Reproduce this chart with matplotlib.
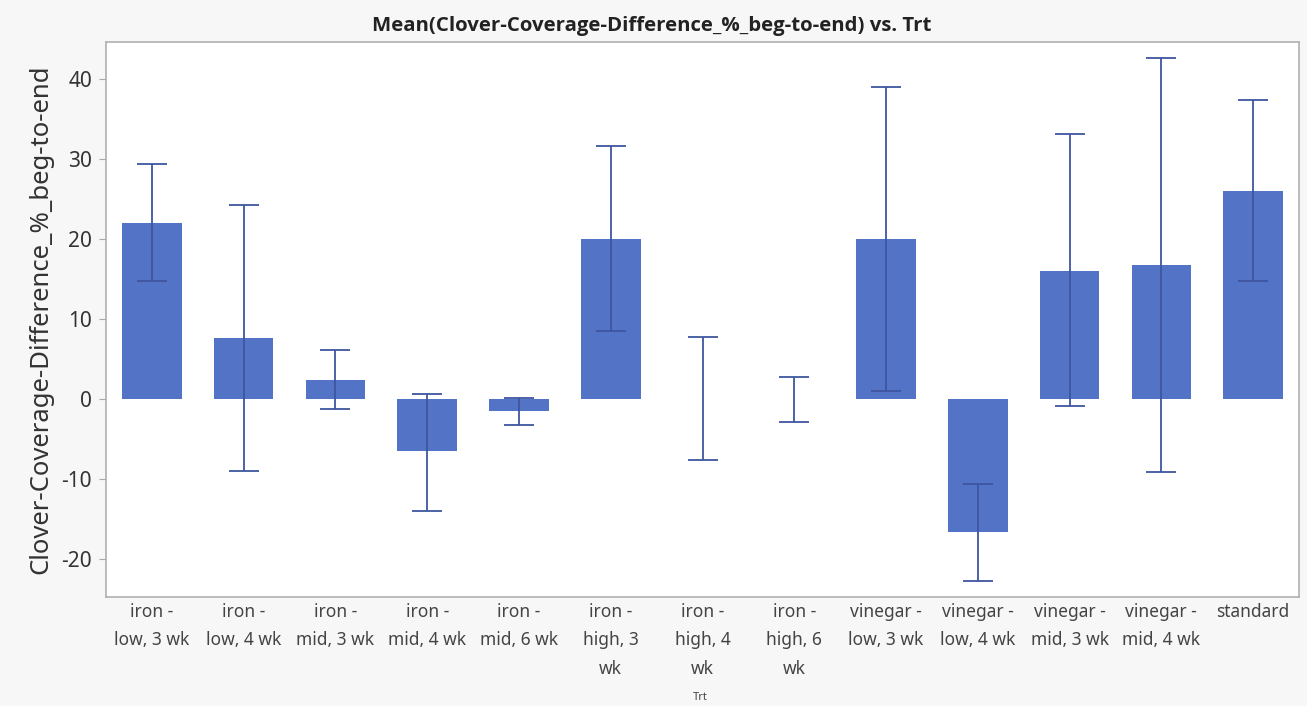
import matplotlib.pyplot as plt
import numpy as np

plt.rcParams['font.family'] = ['Noto Sans', 'DejaVu Sans']

categories = ["iron -\nlow, 3 wk", "iron -\nlow, 4 wk", "iron -\nmid, 3 wk", "iron -\nmid, 4 wk",
              "iron -\nmid, 6 wk", "iron -\nhigh, 3\nwk", "iron -\nhigh, 4\nwk", "iron -\nhigh, 6\nwk",
              "vinegar -\nlow, 3 wk", "vinegar -\nlow, 4 wk", "vinegar -\nmid, 3 wk", "vinegar -\nmid, 4 wk",
              "standard"]
means = [22.0, 7.6, 2.4, -6.5, -1.5, 20.0, 0.0, 0.0, 20.0, -16.6, 16.0, 16.7, 26.0]
err_low = [14.7, -9.0, -1.25, -13.9, -3.25, 8.5, -7.6, -2.9, 1.0, -22.75, -0.8, -9.1, 14.7]
err_high = [29.4, 24.2, 6.1, 0.6, 0.2, 31.6, 7.75, 2.75, 39.0, -10.6, 33.1, 42.6, 37.4]
yticks = [-20, -10, 0, 10, 20, 30, 40]

fig = plt.figure(figsize=(13.07, 7.06), dpi=100, facecolor="#f7f7f7")
ax = fig.add_axes([106/1307, 1-597/706, 1193/1307, 555/706])
ax.set_facecolor("white")

x = np.arange(len(categories))
m = np.array(means)
lo = m - np.array(err_low)
hi = np.array(err_high) - m
ax.bar(x, m, width=0.65, color="#5374c6", zorder=2)
ax.errorbar(x, m, yerr=[lo, hi], fmt="none", ecolor="#3f55a0", elinewidth=1.3,
            capsize=11, capthick=1.3, zorder=3)

ax.set_xlim(-0.5, len(categories) - 0.5)
ax.set_ylim(-24.7, 44.6)
ax.set_yticks(yticks)
ax.set_yticklabels([str(t) for t in yticks], fontsize=15, color="#333333")
ax.set_xticks(x)
ax.set_xticklabels(categories, fontsize=12.5, color="#444444", linespacing=1.75)
ax.tick_params(axis="x", length=0, pad=4)
ax.tick_params(axis="y", length=5, color="#aaaaaa", pad=5)
for s in ax.spines.values():
    s.set_color("#b0b0b0")
    s.set_linewidth(1.2)

ax.set_ylabel("Clover-Coverage-Difference_%_beg-to-end", fontsize=18.5, color="#333333", labelpad=6)
fig.text(652/1307, 1-26/706, "Mean(Clover-Coverage-Difference_%_beg-to-end) vs. Trt",
         ha="center", va="center", fontsize=14.7, fontweight="bold", color="#222222",
         family=["Open Sans", "DejaVu Sans"])
fig.text(700/1307, 1-697/706, "Trt", ha="center", va="center", fontsize=8, color="#444444")

fig.savefig("out.png", dpi=100, facecolor=fig.get_facecolor())
